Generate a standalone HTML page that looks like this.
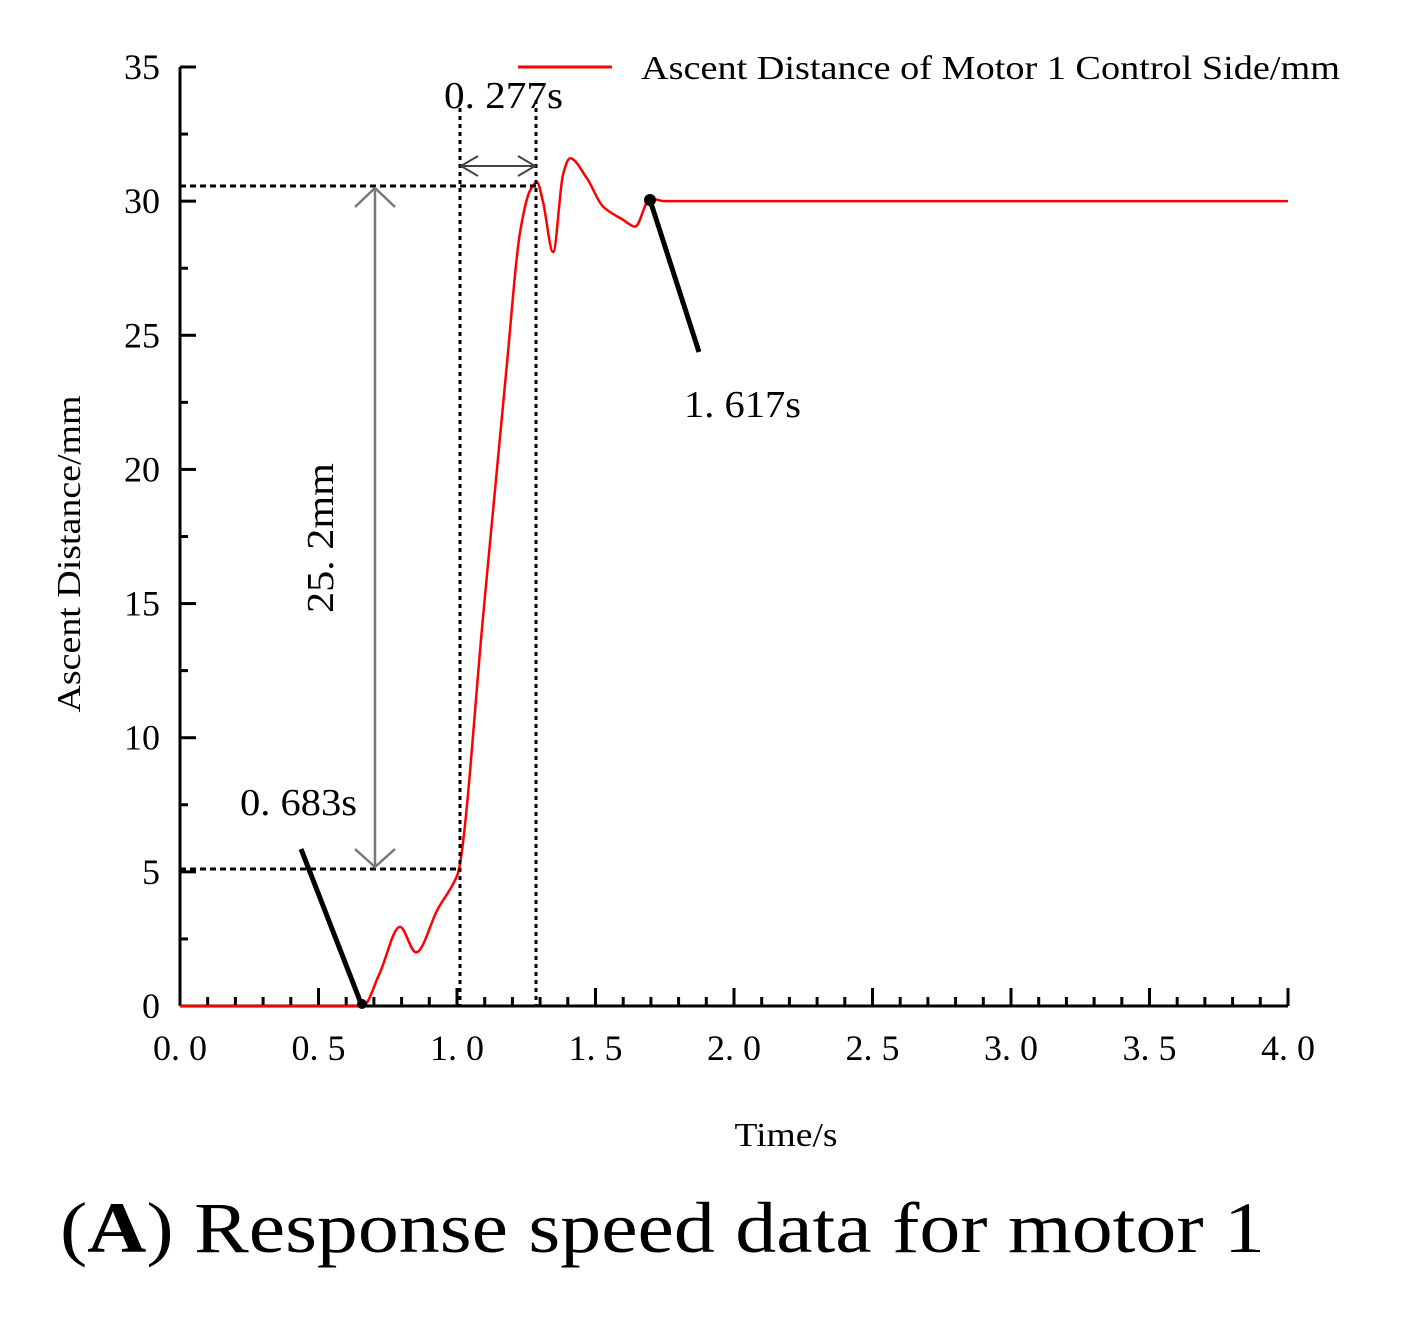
<!DOCTYPE html>
<html><head><meta charset="utf-8"><style>
html,body{margin:0;padding:0;background:#fff;}
svg{display:block;font-family:"Liberation Serif",serif;}
</style></head><body>
<svg id="chart" width="1414" height="1331" viewBox="0 0 1414 1331" xmlns="http://www.w3.org/2000/svg">
<g id="axes"></g>
<g id="series"></g>
<g id="annot"></g>
<text x="60" y="1252" font-size="72" fill="#000" textLength="1205" lengthAdjust="spacingAndGlyphs">(<tspan font-weight="bold">A</tspan>) Response speed data for motor 1</text>
</svg>
<script>
const xTicks=[0,0.5,1.0,1.5,2.0,2.5,3.0,3.5,4.0];
const xTickLabels=["0. 0","0. 5","1. 0","1. 5","2. 0","2. 5","3. 0","3. 5","4. 0"];
const yTicks=[0,5,10,15,20,25,30,35];
const timeVals=[0,0.66,0.72,0.794,0.852,0.93,1.0,1.01,1.094,1.18,1.227,1.264,1.289,1.31,1.347,1.383,1.408,1.469,1.527,1.6,1.643,1.697,1.75,4.0];
const distVals=[0,0,1.2,2.95,2.0,3.6,4.85,5.25,14.5,23.9,28.8,30.4,30.7,30.0,28.1,31.0,31.6,30.85,29.8,29.3,29.05,30.1,30,30];
const NS="http://www.w3.org/2000/svg";
const X0=180,X1=1288,Y0=1006,Y1=67;
const xs=v=>X0+(v-0)/(4-0)*(X1-X0);
const ys=v=>Y0-(v-0)/(35-0)*(Y0-Y1);
function mk(tag,attrs,parent,text){const e=document.createElementNS(NS,tag);for(const k in attrs)e.setAttribute(k,attrs[k]);if(text!==undefined)e.textContent=text;document.getElementById(parent).appendChild(e);return e;}
let e=mk('line',{x1:X0,y1:Y0,x2:X1,y2:Y0,stroke:'#000','stroke-width':3},'axes');


e=mk('line',{x1:X0,y1:Y0,x2:X0,y2:Y1,stroke:'#000','stroke-width':3},'axes');


for(let i=0;i<=40;i++){const v=i/10;const major=i%5===0;
 e=mk('line',{x1:xs(v),y1:Y0,x2:xs(v),y2:Y0-(major?18:9),stroke:'#000','stroke-width':3},'axes');
 
 }
for(let i=0;i<=14;i++){const v=i*2.5;const major=i%2===0;
 e=mk('line',{x1:X0,y1:ys(v),x2:X0+(major?16:8),y2:ys(v),stroke:'#000','stroke-width':3},'axes');
 
 }
xTicks.forEach((v,i)=>{e=mk('text',{x:xs(v),y:1060,'font-size':36,'text-anchor':'middle'},'axes',xTickLabels[i]);
 
 });
yTicks.forEach(v=>{e=mk('text',{x:160,y:ys(v)+12,'font-size':36,'text-anchor':'end'},'axes',String(v));
 
 });
e=mk('text',{x:786,y:1146,'font-size':34,'text-anchor':'middle',textLength:103,lengthAdjust:'spacingAndGlyphs'},'axes','Time/s');


e=mk('text',{x:0,y:0,'font-size':34,'text-anchor':'middle',textLength:317,lengthAdjust:'spacingAndGlyphs',transform:'translate(80,554) rotate(-90)'},'axes','Ascent Distance/mm');


e=mk('line',{x1:518,y1:67,x2:612,y2:67,stroke:'#f00','stroke-width':3},'axes');


e=mk('text',{x:641,y:79,'font-size':34,textLength:699,lengthAdjust:'spacingAndGlyphs'},'axes','Ascent Distance of Motor 1 Control Side/mm');


// monotone cubic (Fritsch-Carlson) in pixel space
const P=timeVals.map((t,i)=>[xs(t),ys(distVals[i])]);
const n=P.length,sl=[],m=[];
for(let i=0;i<n-1;i++)sl.push((P[i+1][1]-P[i][1])/(P[i+1][0]-P[i][0]));
for(let i=0;i<n;i++){
 if(i===0)m.push(sl[0]);else if(i===n-1)m.push(sl[n-2]);
 else if(sl[i-1]*sl[i]<=0)m.push(0);
 else{const a=sl[i-1],b=sl[i];m.push(2*a*b/(a+b));}
}
let d='M'+P[0][0]+','+P[0][1];
for(let i=0;i<n-1;i++){const h=(P[i+1][0]-P[i][0])/3;
 d+=` C${P[i][0]+h},${P[i][1]+m[i]*h} ${P[i+1][0]-h},${P[i+1][1]-m[i+1]*h} ${P[i+1][0]},${P[i+1][1]}`;}
e=mk('path',{d:d,fill:'none',stroke:'#f00','stroke-width':2.5},'series');


const A=[
 ['line',{x1:180,y1:186,x2:537,y2:186,stroke:'#000','stroke-width':3,'stroke-dasharray':'6,4'},'peak-dashed-line'],
 ['line',{x1:180,y1:869,x2:460,y2:869,stroke:'#000','stroke-width':3,'stroke-dasharray':'6,4'},'start-dashed-line'],
 ['line',{x1:460,y1:100,x2:460,y2:1006,stroke:'#000','stroke-width':3,'stroke-dasharray':'4,4'},'t1-dotted-line'],
 ['line',{x1:536,y1:100,x2:536,y2:1006,stroke:'#000','stroke-width':3,'stroke-dasharray':'4,4'},'t2-dotted-line'],
 ['path',{d:'M375,188 V867 M355,207 L375,188 L395,207 M355,849 L375,867 L395,849',stroke:'#777','stroke-width':2.5,fill:'none'},'height-arrow'],
 ['path',{d:'M461,166 H535 M478,156 L461,166 L478,176 M518,156 L535,166 L518,176',stroke:'#444','stroke-width':2,fill:'none'},'time-arrow'],
 ['line',{x1:301,y1:849,x2:362,y2:1006,stroke:'#000','stroke-width':5},'pointer-0683'],
 ['line',{x1:650,y1:200,x2:699,y2:352,stroke:'#000','stroke-width':5},'pointer-1617'],
 ['circle',{cx:650,cy:200,r:6,fill:'#000'},'settle-point'],
 ['circle',{cx:362,cy:1004,r:5,fill:'#000'},'start-point']
];
A.forEach(a=>{e=mk(a[0],a[1],'annot');
 
 });
e=mk('text',{x:444,y:108,'font-size':38,textLength:119,lengthAdjust:'spacingAndGlyphs'},'annot','0. 277s');


e=mk('text',{x:240,y:815,'font-size':38,textLength:117,lengthAdjust:'spacingAndGlyphs'},'annot','0. 683s');


e=mk('text',{x:684,y:417,'font-size':38,textLength:117,lengthAdjust:'spacingAndGlyphs'},'annot','1. 617s');


e=mk('text',{x:0,y:0,'font-size':38,'text-anchor':'middle',textLength:150,lengthAdjust:'spacingAndGlyphs',transform:'translate(333,538) rotate(-90)'},'annot','25. 2mm');


</script>
</body></html>
